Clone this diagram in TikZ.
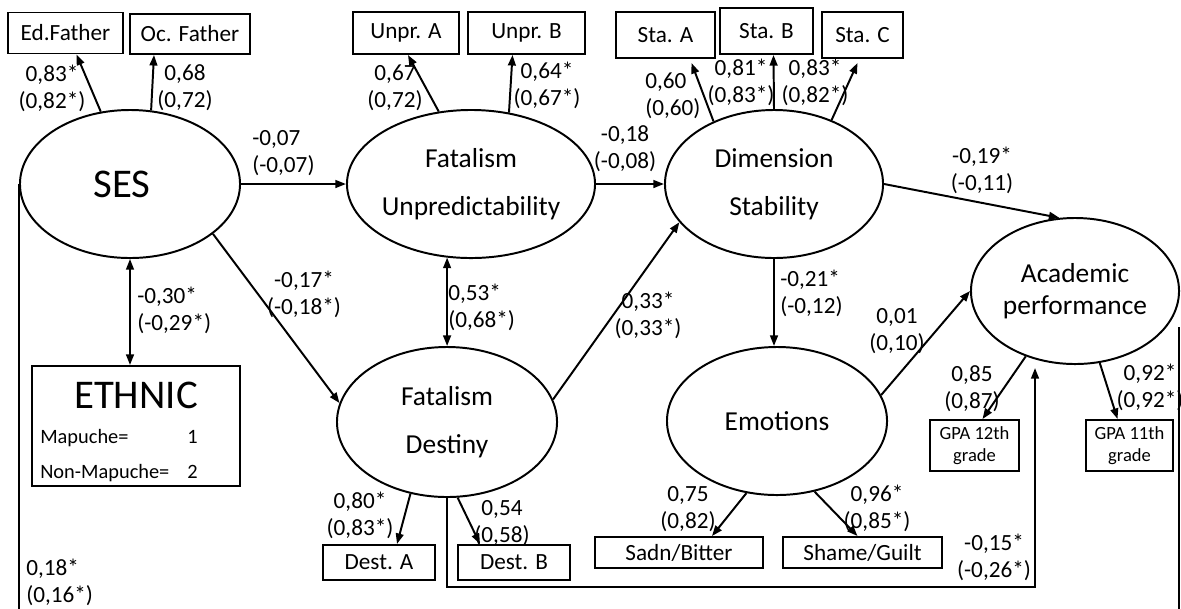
\documentclass[tikz,border=0pt]{standalone}
\usepackage{fontspec}
\setmainfont{Carlito}
\usetikzlibrary{shapes.geometric,arrows.meta,calc}

\newcommand{\coeffont}{\fontsize{16.5}{19.2}\selectfont}
\newcommand{\latfont}{\fontsize{19.5}{34}\selectfont}
\newcommand{\bigfont}{\fontsize{29}{32}\selectfont}
\newcommand{\gpafont}{\fontsize{13.2}{15.6}\selectfont}
\newcommand{\ethfont}{\fontsize{14.5}{17}\selectfont}

\tikzset{
  latent/.style={draw, ellipse, line width=1.4pt, inner sep=0pt, align=center, font=\latfont},
  obs/.style={draw, rectangle, line width=1.4pt, inner sep=0pt, align=center, font=\coeffont},
  coef/.style={inner sep=0pt, align=center, font=\coeffont, anchor=base},
  reg/.style={line width=1.4pt, -{Triangle[length=7.5pt,width=5.5pt]}},
  cov/.style={line width=1.4pt, {Triangle[length=7.5pt,width=5.5pt]}-{Triangle[length=7.5pt,width=5.5pt]}},
}

\begin{document}
\begin{tikzpicture}[x=0.025cm, y=-0.025cm]
\useasboundingbox (0,0) rectangle (1181,608);
\clip (0,0) rectangle (1181,608);

% latent variables
\node[latent, minimum width=5.5cm, minimum height=3.7cm, font=\bigfont] (ses) at (130,184) {SES\hspace{0.4cm}};
\node[latent, minimum width=6.2cm, minimum height=3.7cm] (fun) at (471,184) {Fatalism\\\makebox[0pt]{Unpredictability}};
\node[latent, minimum width=5.45cm, minimum height=3.7cm] (dst) at (774,184) {Dimension\\Stability};
\node[latent, minimum width=5.5cm, minimum height=3.75cm] (fde) at (447,422) {\rule{0pt}{0.35cm}Fatalism\\Destiny};
\node[latent, minimum width=5.5cm, minimum height=3.7cm] (emo) at (777,421) {Emotions};
\node[latent, minimum width=5.2cm, minimum height=3.65cm, font=\fontsize{19.5}{23}\selectfont] (acp) at (1075,291) {Academic\\performance};

% observed variables
\node[obs, minimum width=2.875cm, minimum height=1.025cm] (edf) at (65.5,33) {Ed.Father};
\node[obs, minimum width=3cm, minimum height=1cm] (ocf) at (190,34) {Oc. Father};
\node[obs, minimum width=2.65cm, minimum height=1.05cm] (upa) at (406,33) {Unpr. A};
\node[obs, minimum width=2.925cm, minimum height=1.05cm] (upb) at (526.5,33) {Unpr. B};
\node[obs, minimum width=2.475cm, minimum height=1.15cm] (sta) at (665.5,35) {Sta. A};
\node[obs, minimum width=2.325cm, minimum height=1.15cm] (stb) at (766.5,31) {Sta. B};
\node[obs, minimum width=2.025cm, minimum height=1.15cm] (stc) at (862.5,35) {Sta. C};
\node[obs, minimum width=2.8cm, minimum height=0.875cm] (dsa) at (379,562.5) {Dest. A};
\node[obs, minimum width=2.8cm, minimum height=0.875cm] (dsb) at (514,562.5) {Dest. B};
\node[obs, minimum width=4.2cm, minimum height=0.775cm] (sad) at (679,552.5) {Sadn/Bitter};
\node[obs, minimum width=3.975cm, minimum height=0.775cm] (shg) at (862.5,552.5) {Shame/Guilt};
\node[obs, minimum width=2.225cm, minimum height=1.275cm, font=\gpafont] (g12) at (974.5,445.5) {GPA 12th\\grade};
\node[obs, minimum width=2.175cm, minimum height=1.275cm, font=\gpafont] (g11) at (1129.5,445.5) {GPA 11th\\grade};

% ethnic box
\node[obs, minimum width=5.2cm, minimum height=3cm] (eth) at (136,426) {};
\node[font=\bigfont, inner sep=0pt] (ethT) at (136,395) {ETHNIC};
\node[anchor=base west, inner sep=0pt, font=\ethfont] (ethM) at (40,443) {Mapuche=};
\node[anchor=base west, inner sep=0pt, font=\ethfont] (ethMv) at (187,443) {1};
\node[anchor=base west, inner sep=0pt, font=\ethfont] (ethN) at (40,478) {Non-Mapuche=};
\node[anchor=base west, inner sep=0pt, font=\ethfont] (ethNv) at (187,478) {2};

% loadings
\draw[reg] (ses.112) -- ($(edf.south)+(11,0)$);
\draw[reg] (ses.74) -- ($(ocf.south)+(-36,0)$);
\draw[reg] (fun.114) -- ($(upa.south)+(2,0)$);
\draw[reg] (fun.62) -- ($(upb.south)+(-14,0)$);
\draw[reg] (dst.134) -- ($(sta.south)+(26,4)$);
\draw[reg] (dst.90) -- ($(stb.south)+(7,0)$);
\draw[reg] (dst.48) -- ($(stc.south)+(-5,4)$);
\draw[reg] (fde.-117) -- ($(dsa.north)+(18,0)$);
\draw[reg] (fde.-82) -- ($(dsb.north)+(-34,0)$);
\draw[reg] (emo.-113) -- ($(sad.north)+(33,0)$);
\draw[reg] (emo.-62) -- ($(shg.north)+(-5,0)$);
\draw[reg] (acp.-127) -- ($(g12.north)+(8,0)$);
\draw[reg] (acp.-71) -- ($(g11.north)+(-12,0)$);

% structural paths
\draw[reg] (ses.east) -- (fun.west);
\draw[reg] (fun.east) -- (dst.west);
\draw[reg] (dst.east) -- (acp.102);
\draw[reg] (ses.-31) -- (fde.170);
\draw[cov] (ses.south) -- (ses.south |- eth.north);
\draw[cov] (fun.-108) -- (fun.-108 |- fde.north);
\draw[reg] (fde.12) -- (dst.-158);
\draw[reg] (dst.south) -- (dst.south |- emo.north);
\draw[reg] (emo.14) -- (acp.west);
\coordinate (dcorner) at (1035,587);
\coordinate (dend) at (1035,368);
\draw[reg] (fde.south) |- (dcorner) -- (dend);
\coordinate (scorner) at (1179,614);
\coordinate (send) at (1179,327);
\draw[line width=1.4pt] (ses.west) |- (scorner) -- (send);

% coefficients (at the baseline of the lower line)
\node[coef] (k1) at (52,108) {0,83*\\(0,82*)};
\node[coef] (k2) at (185,107) {0,68\\(0,72)};
\node[coef] (k3) at (395,107) {0,67\\(0,72)};
\node[coef] (k4) at (547,105) {0,64*\\(0,67*)};
\node[coef, anchor=base west, align=left] (k5) at (645,115) {0,60\\(0,60)};
\node[coef] (k6) at (741,102) {0,81*\\(0,83*)};
\node[coef] (k7) at (815,102) {0,83*\\(0,82*)};
\node[coef, anchor=base west, align=left] (k8) at (252,172) {-0,07\\(-0,07)};
\node[coef] (k9) at (625,168) {-0,18\\(-0,08)};
\node[coef] (k10) at (982,190) {-0,19*\\(-0,11)};
\node[coef] (k11) at (304,314) {-0,17*\\(-0,18*)};
\node[coef, anchor=base west, align=left] (k12) at (137,330) {-0,30*\\(-0,29*)};
\node[coef, anchor=base west, align=left] (k13) at (448,327) {0,53*\\(0,68*)};
\node[coef] (k14) at (648,335) {0,33*\\(0,33*)};
\node[coef, anchor=base west, align=left] (k15) at (780,313) {-0,21*\\(-0,12)};
\node[coef] (k16) at (897,350) {0,01\\(0,10)};
\node[coef] (k17) at (688,528) {0,75\\(0,82)};
\node[coef] (k18) at (877,528) {0,96*\\(0,85*)};
\node[coef] (k19) at (360,535) {0,80*\\(0,83*)};
\node[coef] (k20) at (502,542) {0,54\\(0,58)};
\node[coef] (k21) at (972,408) {0,85\\(0,87)};
\node[coef] (k22) at (1150,407) {0,92*\\(0,92*)};
\node[coef] (k23) at (994,577) {-0,15*\\(-0,26*)};
\node[coef, anchor=base west, align=left] (k24) at (26,602) {0,18*\\(0,16*)};
\end{tikzpicture}
\end{document}
